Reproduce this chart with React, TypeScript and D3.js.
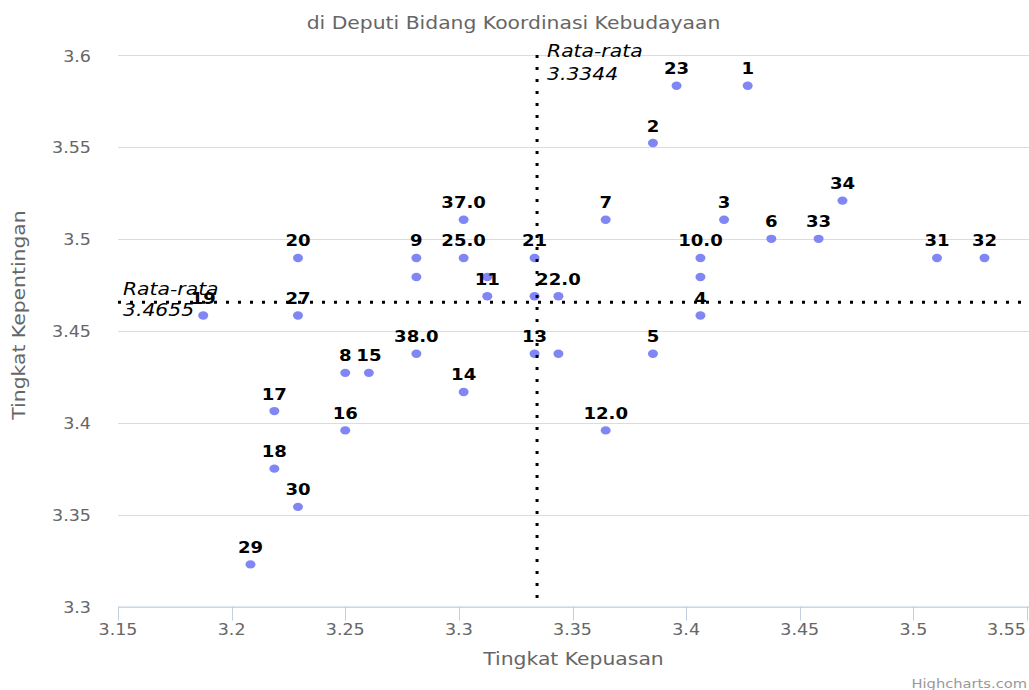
import React from 'react';
import * as d3 from 'd3';

// point names (blank = point drawn without a label)
const names = ['1', '2', '3', '4', '5', '6', '7', '8', '9', '10.0', '11', '12.0', '13', '14', '15', '16', '17', '18', '19', '20',
  '21', '22.0', '23', '25.0', '27', '29', '30', '31', '32', '33', '34', '37.0', '38.0', '', '', '', '', ''];
// Tingkat Kepuasan
const kepuasan = [3.4271, 3.3854, 3.4167, 3.4063, 3.3854, 3.4375, 3.3646, 3.25, 3.2813, 3.4063, 3.3125, 3.3646, 3.3333, 3.3021,
  3.2604, 3.25, 3.2188, 3.2188, 3.1875, 3.2292, 3.3333, 3.3438, 3.3958, 3.3021, 3.2292, 3.2083, 3.2292, 3.5104, 3.5313,
  3.4583, 3.4688, 3.3021, 3.2813, 3.2813, 3.3125, 3.4063, 3.3333, 3.3438];
// Tingkat Kepentingan
const kepentingan = [3.5833, 3.5521, 3.5104, 3.4583, 3.4375, 3.5, 3.5104, 3.4271, 3.4896, 3.4896, 3.4688, 3.3958, 3.4375, 3.4167,
  3.4271, 3.3958, 3.4063, 3.375, 3.4583, 3.4896, 3.4896, 3.4688, 3.5833, 3.4896, 3.4583, 3.3229, 3.3542, 3.4896, 3.4896,
  3.5, 3.5208, 3.5104, 3.4375, 3.4792, 3.4792, 3.4792, 3.4688, 3.4375];

const meanX = 3.3344;
const meanY = 3.4655;
const xDomain = [3.15, 3.55];
const yDomain = [3.3, 3.6];

const W = 1029;
const H = 690;
const left = 118;
const right = 1029;
const top = 55;
const bottom = 606.5;
const SX = 1.13; // the reference text is a bit wide
const FONT = '"DejaVu Sans", Verdana, sans-serif';

const fmt = (v: number) => String(+v.toFixed(2));

// text drawn with a horizontal stretch around its anchor
const T = ({ x, y, rotate = 0, children, ...rest }: any) => (
  <text transform={`translate(${x},${y}) rotate(${rotate}) scale(${SX},1)`} fontFamily={FONT} {...rest}>{children}</text>
);

export default function App() {
  const x = d3.scaleLinear().domain(xDomain).range([left, 1027]);
  const y = d3.scaleLinear().domain(yDomain).range([bottom, top]);
  const xTicks = x.ticks(8);
  const yTicks = y.ticks(6);
  const points = names.map((n, i) => ({ name: n, x: kepuasan[i], y: kepentingan[i] }));
  const mx = x(meanX);
  const my = y(meanY);

  return (
    <svg width={W} height={H} style={{ position: 'absolute', left: 0, top: 0, background: '#fff' }}>
      <T x={513.5} y={28.5} textAnchor="middle" fontSize={18} fill="#666">di Deputi Bidang Koordinasi Kebudayaan</T>

      {/* grid */}
      {yTicks.map(t => (
        <line key={'g' + t} x1={left} x2={right} y1={Math.round(y(t)) + 0.5} y2={Math.round(y(t)) + 0.5} stroke="#dcdcdc" strokeWidth={1} />
      ))}
      {yTicks.map(t => (
        <T key={'yl' + t} x={91} y={y(t) + 6.5} textAnchor="end" fontSize={15.5} fill="#666">{fmt(t)}</T>
      ))}

      {/* x axis */}
      <line x1={left} x2={right} y1={bottom + 0.5} y2={bottom + 0.5} stroke="#C0D0E0" strokeWidth={1} />
      {xTicks.map(t => {
        const label = fmt(t);
        const half = label.length * 15.5 * 0.6 * SX / 2;
        const overflow = x(t) + half > W - 2;
        return (
          <g key={'xt' + t}>
            <line x1={Math.round(x(t)) + 0.5} x2={Math.round(x(t)) + 0.5} y1={bottom} y2={bottom + 14} stroke="#C0D0E0" strokeWidth={1} />
            <T x={overflow ? W - 3 : x(t)} y={635} textAnchor={overflow ? 'end' : 'middle'} fontSize={15.5} fill="#666">{label}</T>
          </g>
        );
      })}

      {/* axis titles */}
      <T x={573.5} y={665} textAnchor="middle" fontSize={18} fill="#666">Tingkat Kepuasan</T>
      <T x={25} y={315} rotate={-90} textAnchor="middle" fontSize={18} fill="#666">Tingkat Kepentingan</T>

      {/* points */}
      {points.map((p, i) => (
        <ellipse key={'p' + i} cx={x(p.x)} cy={y(p.y)} rx={5} ry={4.2} fill="#8087f4" />
      ))}

      {/* mean lines */}
      <line x1={mx} x2={mx} y1={top} y2={bottom} stroke="#000" strokeWidth={3} strokeDasharray="3,9" />
      <line x1={left} x2={right} y1={my} y2={my} stroke="#000" strokeWidth={3} strokeDasharray="3,9" />

      {/* data labels */}
      {points.filter(p => p.name).map((p, i) => (
        <T key={'l' + i} x={x(p.x)} y={y(p.y) - 11.5} textAnchor="middle" fontSize={16} fontWeight="bold" fill="#000">{p.name}</T>
      ))}

      {/* mean labels */}
      <T x={mx + 10} y={top + 2} fontSize={18} fontStyle="italic" fill="#000">Rata-rata</T>
      <T x={mx + 10} y={top + 24.5} fontSize={18} fontStyle="italic" fill="#000">{String(meanX)}</T>
      <T x={123} y={my - 7.5} fontSize={18} fontStyle="italic" fill="#000">Rata-rata</T>
      <T x={123} y={my + 14} fontSize={18} fontStyle="italic" fill="#000">{String(meanY)}</T>

      <T x={1027} y={688} textAnchor="end" fontSize={13} fill="#999">Highcharts.com</T>
    </svg>
  );
}
